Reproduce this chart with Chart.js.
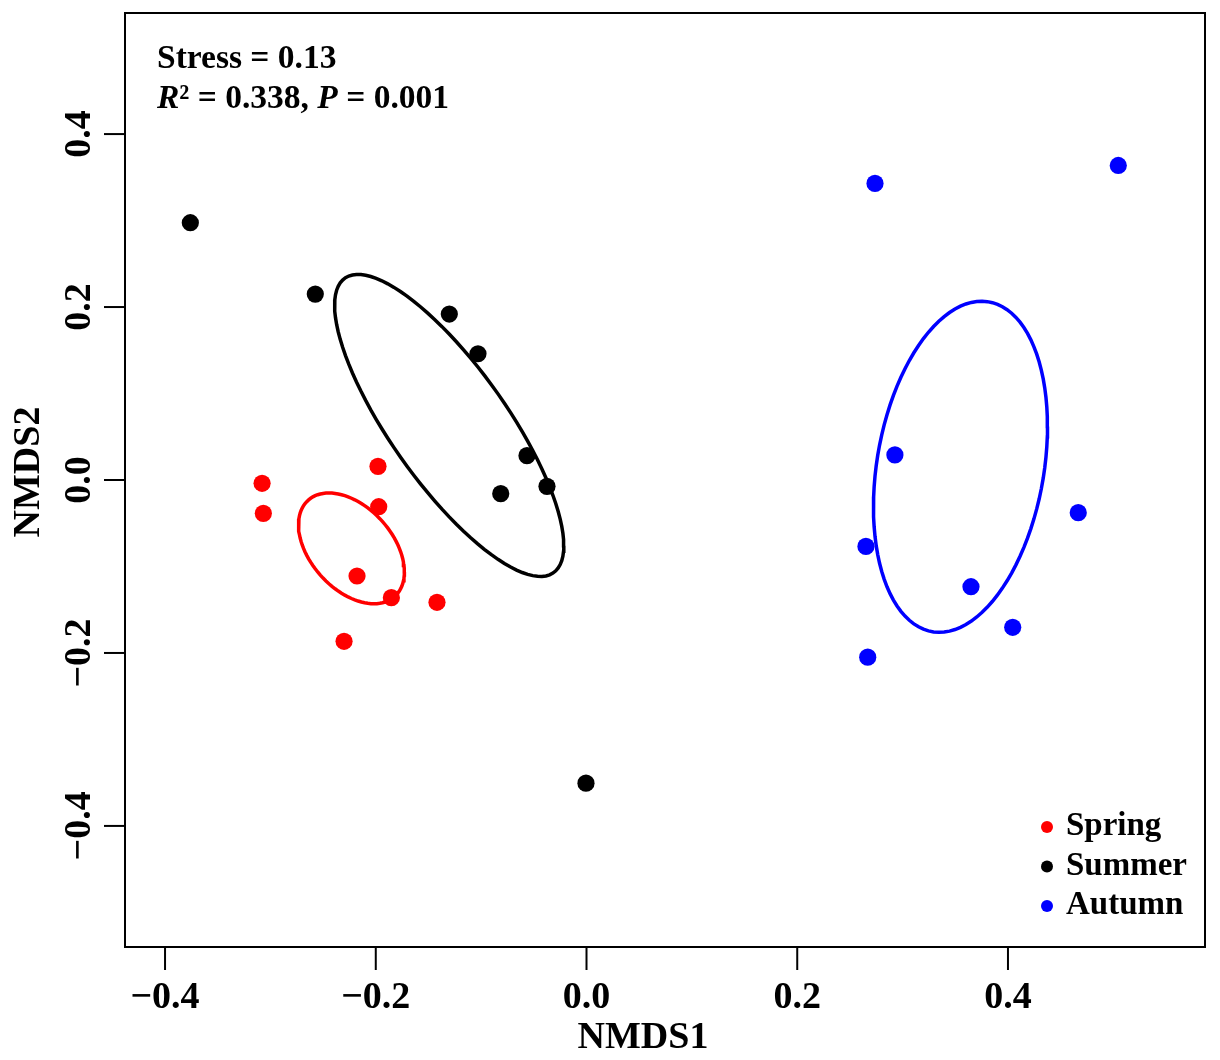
<!DOCTYPE html>
<html lang="en">
<head>
	<meta charset="UTF-8"/>
	<title>NMDS by season</title>
	<script src="https://cdn.jsdelivr.net/npm/chart.js"></script>
	<style>
		html, body { margin: 0; padding: 0; background: #ffffff; }
		canvas { display: block; }
	</style>
	<script>
		const seasons = ["Spring", "Summer", "Autumn"];
		const seasonColors = ["#FF0000", "#000000", "#0000FF"];

		const springNMDS1 = [-0.3079, -0.3067, -0.1979, -0.1972, -0.2178, -0.1852, -0.1419, -0.2301];
		const springNMDS2 = [-0.0038, -0.0385, 0.0158, -0.0309, -0.1110, -0.1361, -0.1414, -0.1865];
		const summerNMDS1 = [-0.3760, -0.2574, -0.1302, -0.1030, -0.0565, -0.0814, -0.0375, -0.0005];
		const summerNMDS2 = [0.2975, 0.2150, 0.1919, 0.1460, 0.0281, -0.0158, -0.0073, -0.3506];
		const autumnNMDS1 = [0.2738, 0.5047, 0.2927, 0.4667, 0.2652, 0.3649, 0.4045, 0.2669];
		const autumnNMDS2 = [0.3429, 0.3637, 0.0290, -0.0378, -0.0768, -0.1234, -0.1703, -0.2049];

		const xTickValues = [-0.4, -0.2, 0, 0.2, 0.4];
		const xTickLabels = ["\u22120.4", "\u22120.2", "0.0", "0.2", "0.4"];
		const yTickValues = [-0.4, -0.2, 0, 0.2, 0.4];
		const yTickLabels = ["\u22120.4", "\u22120.2", "0.0", "0.2", "0.4"];

		const stressText = "Stress = 0.13";
		const r2Text = "0.338";
		const pText = "0.001";
		const ellipseConf = 0.95;

		const SERIF = '"Liberation Serif", "Times New Roman", serif';

		function zip(xs, ys) {
			return xs.map((x, i) => ({ x: x, y: ys[i] }));
		}

		// standard-error ellipse like vegan::ordiellipse(kind = "se", conf = 0.95)
		function seEllipse(xs, ys, conf) {
			const n = xs.length;
			const mx = xs.reduce((a, b) => a + b, 0) / n;
			const my = ys.reduce((a, b) => a + b, 0) / n;
			let sxx = 0, syy = 0, sxy = 0;
			for (let i = 0; i < n; i++) {
				sxx += (xs[i] - mx) * (xs[i] - mx);
				syy += (ys[i] - my) * (ys[i] - my);
				sxy += (xs[i] - mx) * (ys[i] - my);
			}
			const f = 1 / ((n - 1) * n);
			sxx *= f; syy *= f; sxy *= f;
			const s = Math.sqrt(-2 * Math.log(1 - conf));
			const a = Math.sqrt(sxx);
			const b = sxy / a;
			const c = Math.sqrt(syy - b * b);
			const pts = [];
			for (let k = 0; k <= 100; k++) {
				const t = 2 * Math.PI * k / 100;
				pts.push({ x: mx + s * a * Math.cos(t), y: my + s * (b * Math.cos(t) + c * Math.sin(t)) });
			}
			return pts;
		}

		const framePlugin = {
			id: "frame",
			afterDraw(chart) {
				const ctx = chart.ctx;
				const area = chart.chartArea;
				const xs = chart.scales.x;
				const ys = chart.scales.y;
				ctx.save();
				ctx.strokeStyle = "#000";
				ctx.fillStyle = "#000";
				ctx.lineWidth = 2;
				ctx.strokeRect(area.left, area.top, area.right - area.left, area.bottom - area.top);

				// x axis
				ctx.font = "bold 38px " + SERIF;
				ctx.textAlign = "center";
				ctx.textBaseline = "alphabetic";
				xTickValues.forEach((v, i) => {
					const px = xs.getPixelForValue(v);
					ctx.beginPath();
					ctx.moveTo(px, area.bottom);
					ctx.lineTo(px, area.bottom + 23);
					ctx.stroke();
					ctx.fillText(xTickLabels[i], px, 1008);
				});
				ctx.fillText("NMDS1", 643, 1048);

				// y axis, labels turned to read upwards
				yTickValues.forEach((v, i) => {
					const py = ys.getPixelForValue(v);
					ctx.beginPath();
					ctx.moveTo(area.left, py);
					ctx.lineTo(area.left - 21, py);
					ctx.stroke();
					ctx.save();
					ctx.translate(90, py);
					ctx.rotate(-Math.PI / 2);
					ctx.fillText(yTickLabels[i], 0, 0);
					ctx.restore();
				});
				ctx.save();
				ctx.translate(39, 472);
				ctx.rotate(-Math.PI / 2);
				ctx.fillText("NMDS2", 0, 0);
				ctx.restore();

				// stats text
				ctx.textAlign = "left";
				ctx.font = "bold 33.5px " + SERIF;
				ctx.fillText(stressText, 157, 68);
				let x = 157;
				const parts = [
					["italic bold", "R"], ["bold", "\u00B2 = " + r2Text + ", "],
					["italic bold", "P"], ["bold", " = " + pText]
				];
				parts.forEach(p => {
					ctx.font = p[0] + " 33.5px " + SERIF;
					ctx.fillText(p[1], x, 108);
					x += ctx.measureText(p[1]).width;
				});

				// legend
				ctx.font = "bold 33px " + SERIF;
				chart.data.datasets.filter(d => d.isGroup).forEach((d, i) => {
					const cy = 827 + i * 39.5;
					ctx.fillStyle = d.backgroundColor;
					ctx.beginPath();
					ctx.arc(1047, cy, 6, 0, 2 * Math.PI);
					ctx.fill();
					ctx.fillStyle = "#000";
					ctx.fillText(d.label, 1066, cy + 8);
				});
				ctx.restore();
			}
		};

		window.addEventListener("load", function() {
			const groups = [
				zip(springNMDS1, springNMDS2),
				zip(summerNMDS1, summerNMDS2),
				zip(autumnNMDS1, autumnNMDS2)
			];
			const ellipses = [
				seEllipse(springNMDS1, springNMDS2, ellipseConf),
				seEllipse(summerNMDS1, summerNMDS2, ellipseConf),
				seEllipse(autumnNMDS1, autumnNMDS2, ellipseConf)
			];
			const datasets = [];
			seasons.forEach((name, i) => {
				datasets.push({
					label: name,
					isGroup: true,
					data: groups[i],
					backgroundColor: seasonColors[i],
					borderWidth: 0,
					pointRadius: 8.6,
					pointHoverRadius: 8.6,
					order: 0
				});
			});
			seasons.forEach((name, i) => {
				datasets.push({
					type: "line",
					label: name + " ellipse",
					data: ellipses[i],
					borderColor: seasonColors[i],
					borderWidth: 3.5,
					pointRadius: 0,
					fill: false,
					tension: 0,
					order: 1
				});
			});

			new Chart(document.getElementById("nmds"), {
				type: "scatter",
				data: { datasets: datasets },
				options: {
					responsive: false,
					animation: false,
					layout: { padding: { left: 125, top: 13, right: 15, bottom: 113 } },
					plugins: { legend: { display: false }, tooltip: { enabled: false } },
					scales: {
						x: { type: "linear", min: -0.438, max: 0.587, display: false },
						y: { type: "linear", min: -0.54, max: 0.54, display: false }
					}
				},
				plugins: [framePlugin]
			});
		}, false);
	</script>
</head>
<body>
	<canvas id="nmds" width="1220" height="1060"></canvas>
</body>
</html>
